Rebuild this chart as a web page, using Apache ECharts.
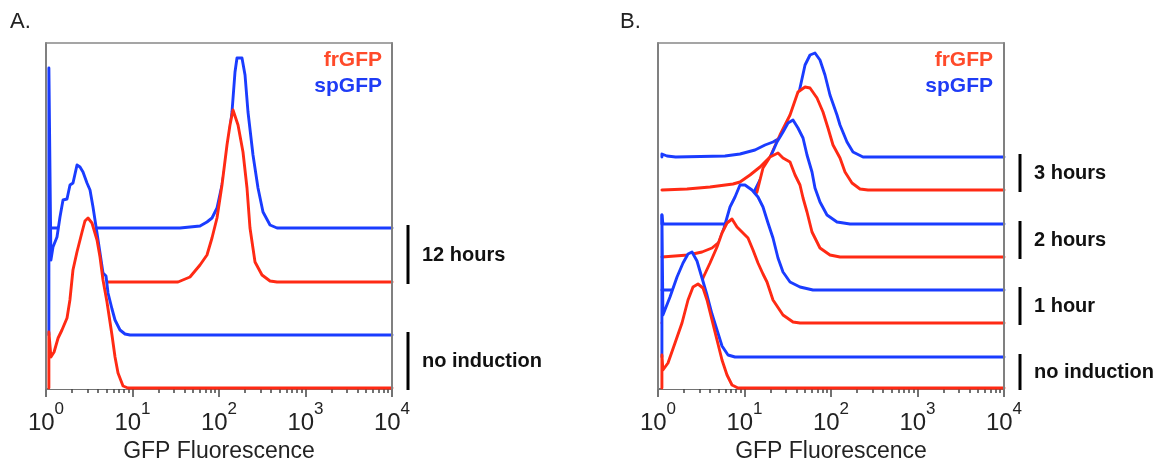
<!DOCTYPE html>
<html><head><meta charset="utf-8">
<script src="https://cdn.jsdelivr.net/npm/echarts@6/dist/echarts.min.js"></script>
<style>html,body{margin:0;padding:0;background:#fff}#c{width:1161px;height:459px}</style>
</head><body><div id="c"></div>
<script>
// ---------- tick values ----------
const majorTicks = [1, 10, 100, 1000, 10000];
const minorTicks = [2,3,4,5,6,7,8,9,20,30,40,50,60,70,80,90,200,300,400,500,600,700,800,900,2000,3000,4000,5000,6000,7000,8000,9000];
const axisTitle = 'GFP Fluorescence';
const seriesNames = ['frGFP', 'spGFP'];

// ---------- Panel A : [fluorescence, counts above own baseline] ----------
const A_spGFP_12h = [[1.11,0],[35.4,0],[46.2,1],[60.3,2],[72.6,6],[83.0,10],[94.8,20],[108.3,43],[123.7,73],[141.3,116],[153.1,156],[161.4,170],[184.4,170],[199.9,153],[216.4,116],[247.2,73],[282.4,40],[322.7,16],[388.9,3],[468.6,0],[10000,0]];
const A_frGFP_12h = [[1.11,0],[33.6,0],[46.2,5],[60.3,17],[72.6,27],[83.0,44],[94.8,64],[108.3,97],[123.7,137],[134.0,157],[145.2,172],[165.9,157],[189.4,130],[210.7,94],[228.2,54],[260.8,20],[314.1,7],[388.9,1],[468.6,0],[10000,0]];
const A_spGFP_none = [[1.08,0],[1.08,267],[1.14,75],[1.205,88],[1.34,98],[1.451,118],[1.573,135],[1.749,136],[1.894,150],[2.052,152],[2.283,170],[2.472,168],[2.678,163],[2.978,152],[3.227,145],[3.494,128],[3.887,102],[4.21,82],[4.56,62],[4.939,59],[5.211,42],[5.794,26],[6.277,15],[7.17,5],[8.19,1],[9.36,0],[10000,0]];
const A_frGFP_none = [[1.08,0],[1.08,56],[1.14,31],[1.24,36],[1.38,50],[1.53,58],[1.75,70],[1.89,88],[2.05,118],[2.28,136],[2.61,156],[2.82,167],[3.06,170],[3.40,165],[3.89,148],[4.21,131],[4.56,108],[5.07,86],[5.79,53],[6.28,31],[6.80,15],[7.77,2],[8.87,0],[10000,0]];
// vertical offsets (baselines) of each histogram
const A_offsets = [161, 107, 54, 1];           // spGFP 12h, frGFP 12h, spGFP none, frGFP none
const A_groupLabels = ['12 hours', 'no induction'];
const A_groupSpans = [[10000, 161, 107], [10000, 54, 1]];

// ---------- Panel B ----------
const B_spGFP_3h = [[1.11,0],[1.11,3],[1.27,1],[1.6,0],[5.951,1],[8.872,3],[13.22,7],[17.27,12],[21.35,15],[25.7,19],[31.0,26],[35.4,37],[40.4,55],[43.8,69],[50.1,92],[57.2,102],[65.3,104],[74.6,97],[85.2,82],[97.3,62],[117.3,42],[127.1,32],[153.1,15],[179.6,5],[234.4,0],[10000,0]];
const B_frGFP_3h = [[1.11,0],[2.164,1],[3.993,3],[7.362,6],[8.872,8],[11.58,15],[15.11,23],[19.72,33],[25.7,55],[33.6,75],[41.52,98],[50.1,103],[57.2,102],[68.9,92],[80.8,78],[92.3,62],[105.5,45],[127.1,32],[145.2,18],[174.9,7],[216.4,1],[267.8,0],[10000,0]];
const B_spGFP_2h = [[1.11,0],[1.11,9],[1.14,0],[5.951,0],[8.872,9],[11.58,24],[15.11,44],[19.72,66],[23.75,82],[27.87,92],[31.84,101],[36.37,104],[41.52,96],[47.5,86],[52.8,69],[60.3,52],[65.3,36],[74.6,22],[89.9,9],[117.3,2],[165.9,0],[10000,0]];
const B_frGFP_2h = [[1.11,0],[2.223,2],[3.227,5],[4.21,9],[4.939,14],[5.951,20],[7.767,32],[10.13,45],[12.21,58],[13.95,65],[16.36,89],[19.72,100],[24.39,104],[27.87,99],[33.6,95],[38.4,82],[43.8,72],[47.5,59],[52.8,45],[60.3,25],[74.6,9],[97.3,2],[127.1,0],[10000,0]];
const B_spGFP_1h = [[1.11,0],[3.059,0],[3.494,5],[4.21,20],[4.939,45],[5.794,62],[6.798,83],[7.767,93],[8.872,105],[10.13,105],[12.21,100],[14.32,93],[16.36,83],[18.7,67],[21.35,52],[24.39,32],[27.87,18],[33.6,8],[43.8,3],[61.9,0],[10000,0]];
const B_frGFP_1h = [[1.11,0],[2.344,0],[2.824,23],[3.313,45],[3.993,60],[4.81,76],[5.495,90],[6.277,100],[7.17,104],[8.19,96],[9.61,90],[10.98,85],[12.54,73],[14.32,60],[16.36,49],[18.2,41],[21.35,23],[27.87,8],[36.37,1],[43.8,0],[10000,0]];
const B_spGFP_none = [[1.11,0],[1.11,142],[1.14,42],[1.376,60],[1.659,80],[1.946,94],[2.223,103],[2.472,105],[2.824,96],[3.227,79],[3.686,62],[4.21,43],[4.81,27],[5.495,11],[6.45,2],[7.767,0],[10000,0]];
const B_frGFP_none = [[1.11,0],[1.11,33],[1.14,18],[1.305,25],[1.573,45],[1.894,65],[2.223,88],[2.539,101],[2.9,104],[3.313,100],[3.686,88],[4.21,68],[4.81,48],[5.495,28],[6.277,13],[7.17,3],[8.412,0],[10000,0]];
const B_offsets = [232, 199, 165, 132, 99, 66, 32, 1];
const B_groupLabels = ['3 hours', '2 hours', '1 hour', 'no induction'];
const B_groupSpans = [[10000, 232, 199], [10000, 165, 132], [10000, 99, 66], [10000, 32, 1]];

// ---------- styles ----------
const RED = '#ff2a14', BLUE = '#1a3cff';
const FONT = '"Liberation Sans", Arial, Helvetica, sans-serif';
const YMAX = 346;
let zCounter = 2;

function histSeries(name, color, data, offset, axisIdx) {
  zCounter += 1;
  return {
    type: 'line', name: name, xAxisIndex: axisIdx * 3, yAxisIndex: axisIdx * 2, z: zCounter,
    data: data.map(p => [p[0], p[1] + offset]),
    showSymbol: false, symbol: 'none', silent: true, animation: false,
    lineStyle: { color: color, width: 2.9, join: 'round', cap: 'round' },
    areaStyle: { color: '#ffffff', opacity: 1 },
    emphasis: { disabled: true }
  };
}

function groupSeries(spans, labels, axisIdx) {
  return {
    type: 'custom', xAxisIndex: axisIdx * 3, yAxisIndex: axisIdx * 2, silent: true, z: 50,
    animation: false, clip: false, encode: { x: 0, y: [1, 2] },
    data: spans,
    renderItem: function (params, api) {
      const top = api.coord([api.value(0), api.value(1)]);
      const bot = api.coord([api.value(0), api.value(2)]);
      const x = top[0] + 16;
      return {
        type: 'group',
        children: [
          { type: 'line', shape: { x1: x, y1: top[1] - 3, x2: x, y2: bot[1] + 2 },
            style: { stroke: '#000', lineWidth: 3 } },
          { type: 'text', x: x + 14, y: (top[1] + bot[1]) / 2,
            style: { text: labels[params.dataIndex], fill: '#111', fontSize: 20, fontWeight: 'bold',
                     fontFamily: FONT, align: 'left', verticalAlign: 'middle' } }
        ]
      };
    }
  };
}

function xAxes(gridIndex) {
  return [
    { type: 'log', logBase: 10, gridIndex: gridIndex, min: 1, max: 10000, position: 'bottom', z: 1,
      axisLine: { show: true, onZero: false, lineStyle: { color: '#444', width: 1.5 } },
      axisTick: { show: true, customValues: majorTicks, length: 8, lineStyle: { color: '#444', width: 1.5 } },
      axisLabel: { customValues: majorTicks, margin: 12,
        formatter: v => '{b|10}{s|' + Math.round(Math.log10(v)) + '}',
        rich: {
          b: { fontSize: 24, lineHeight: 34, verticalAlign: 'bottom', color: '#222', fontFamily: FONT },
          s: { fontSize: 17, lineHeight: 18, verticalAlign: 'top', color: '#222', fontFamily: FONT }
        } },
      splitLine: { show: false }, minorTick: { show: false },
      name: axisTitle, nameLocation: 'middle', nameGap: 44,
      nameTextStyle: { fontSize: 23, color: '#222', fontFamily: FONT } },
    { type: 'log', logBase: 10, gridIndex: gridIndex, min: 1, max: 10000, position: 'bottom', z: 1,
      axisLine: { show: false },
      axisTick: { show: true, customValues: minorTicks, length: 4, lineStyle: { color: '#444', width: 1.5 } },
      axisLabel: { show: false }, splitLine: { show: false } },
    { type: 'value', gridIndex: gridIndex, min: 0, max: 1, position: 'top', z: 100,
      axisLine: { show: true, onZero: false, lineStyle: { color: '#888', width: 1.5 } },
      axisTick: { show: false }, axisLabel: { show: false }, splitLine: { show: false } }
  ];
}
function yAxes(gridIndex) {
  return ['left', 'right'].map(pos => ({
    type: 'value', gridIndex: gridIndex, min: 0, max: YMAX, position: pos, z: 100,
    axisLine: { show: true, onZero: false, lineStyle: { color: '#808080', width: 2 } },
    axisTick: { show: false }, axisLabel: { show: false }, splitLine: { show: false }
  }));
}

const chart = echarts.init(document.getElementById('c'), null, { renderer: 'canvas' });
chart.setOption({
  animation: false,
  backgroundColor: '#fff',
  title: [
    { text: 'A.', left: 10, top: 11, padding: 0, textStyle: { fontSize: 22, fontWeight: 'normal', color: '#222', fontFamily: FONT } },
    { text: 'B.', left: 620, top: 11, padding: 0, textStyle: { fontSize: 22, fontWeight: 'normal', color: '#222', fontFamily: FONT } },
    { text: seriesNames[0], right: 779, top: 50, padding: 0, textStyle: { fontSize: 21, fontWeight: 'bold', color: '#ff4a2a', fontFamily: FONT } },
    { text: seriesNames[1], right: 779, top: 76, padding: 0, textStyle: { fontSize: 21, fontWeight: 'bold', color: '#1f3cf5', fontFamily: FONT } },
    { text: seriesNames[0], right: 168, top: 50, padding: 0, textStyle: { fontSize: 21, fontWeight: 'bold', color: '#ff4a2a', fontFamily: FONT } },
    { text: seriesNames[1], right: 168, top: 76, padding: 0, textStyle: { fontSize: 21, fontWeight: 'bold', color: '#1f3cf5', fontFamily: FONT } }
  ],
  grid: [
    { left: 46, top: 43, width: 346, height: 346, containLabel: false, outerBoundsMode: 'none' },
    { left: 658, top: 43, width: 346, height: 346, containLabel: false, outerBoundsMode: 'none' }
  ],
  xAxis: xAxes(0).concat(xAxes(1)),
  yAxis: yAxes(0).concat(yAxes(1)),
  series: [
    histSeries(seriesNames[1], BLUE, A_spGFP_12h, A_offsets[0], 0),
    histSeries(seriesNames[0], RED, A_frGFP_12h, A_offsets[1], 0),
    histSeries(seriesNames[1], BLUE, A_spGFP_none, A_offsets[2], 0),
    histSeries(seriesNames[0], RED, A_frGFP_none, A_offsets[3], 0),
    groupSeries(A_groupSpans, A_groupLabels, 0),
    histSeries(seriesNames[1], BLUE, B_spGFP_3h, B_offsets[0], 1),
    histSeries(seriesNames[0], RED, B_frGFP_3h, B_offsets[1], 1),
    histSeries(seriesNames[1], BLUE, B_spGFP_2h, B_offsets[2], 1),
    histSeries(seriesNames[0], RED, B_frGFP_2h, B_offsets[3], 1),
    histSeries(seriesNames[1], BLUE, B_spGFP_1h, B_offsets[4], 1),
    histSeries(seriesNames[0], RED, B_frGFP_1h, B_offsets[5], 1),
    histSeries(seriesNames[1], BLUE, B_spGFP_none, B_offsets[6], 1),
    histSeries(seriesNames[0], RED, B_frGFP_none, B_offsets[7], 1),
    groupSeries(B_groupSpans, B_groupLabels, 1)
  ]
});
</script></body></html>
